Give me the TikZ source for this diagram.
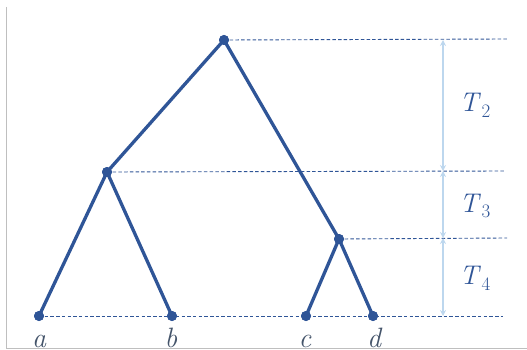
\documentclass[tikz,border=0pt]{standalone}
\usepackage{fontspec}
\usetikzlibrary{arrows.meta}
\definecolor{treeblue}{HTML}{2F5597}
\definecolor{lightblue}{HTML}{BDD7EE}
\definecolor{labelgray}{HTML}{44546A}
\newcommand{\tsub}[1]{\textit{T}\kern0.5pt\raisebox{-0.22em}{\fontsize{19}{20}\selectfont #1}}
\begin{document}
\begin{tikzpicture}[x=1pt,y=-1pt,
  vert/.style={circle,fill=treeblue,inner sep=0pt,minimum size=10pt},
  edge/.style={treeblue,line width=3.3pt},
  guide/.style={treeblue,line width=0.9pt,dash pattern=on 3.5pt off 2.2pt},
  span/.style={lightblue,line width=1.2pt,{Stealth[length=6pt,width=6pt]}-{Stealth[length=6pt,width=6pt]}},
  tlab/.style={text=treeblue,font=\fontsize{27}{30}\selectfont},
  leaf/.style={text=labelgray,font=\fontsize{28}{30}\selectfont\itshape,anchor=base,inner sep=0pt}]
\useasboundingbox (0,0) rectangle (527,350);
% leaf labels
\node[leaf] (la) at (39,347) {a};
\node[leaf] (lb) at (171,347) {b};
\node[leaf] (lc) at (305,347) {c};
\node[leaf] (ld) at (374,347) {d};
\draw[gray!50,line width=0.8pt] (6,7) -- (6,348) -- (527,348);
% vertices
\node[vert] (r) at (224,40) {};
\node[vert] (l) at (107,172) {};
\node[vert] (m) at (339,239) {};
\node[vert] (a) at (39,316) {};
\node[vert] (b) at (172,316) {};
\node[vert] (c) at (306,316) {};
\node[vert] (d) at (373,316) {};
% guide ends
\coordinate (g1) at (507,39);
\coordinate (g2) at (505,171);
\coordinate (g3) at (507,238);
\coordinate (g4) at (503,316);
\draw[guide] (r.center) -- (g1);
\draw[guide] (l.center) -- (g2);
\draw[guide] (m.center) -- (g3);
\draw[guide] (a.center) -- (g4);
% edges
\draw[edge] (r.center) -- (l.center);
\draw[edge] (r.center) -- (m.center);
\draw[edge] (l.center) -- (a.center);
\draw[edge] (l.center) -- (b.center);
\draw[edge] (m.center) -- (c.center);
\draw[edge] (m.center) -- (d.center);
\node[vert] at (r) {};
\node[vert] at (l) {};
\node[vert] at (m) {};
\node[vert] at (a) {};
\node[vert] at (b) {};
\node[vert] at (c) {};
\node[vert] at (d) {};
% spans
\coordinate (s1) at (443,40);
\coordinate (s2) at (443,171);
\coordinate (s3) at (443,238);
\coordinate (s4) at (443,316);
\draw[span] (s1) -- (s2);
\draw[span] (s2) -- (s3);
\draw[span] (s3) -- (s4);
\node[tlab] (t2) at (475,105) {\tsub{2}};
\node[tlab] (t3) at (475,206) {\tsub{3}};
\node[tlab] (t4) at (475,278) {\tsub{4}};
\end{tikzpicture}
\end{document}
